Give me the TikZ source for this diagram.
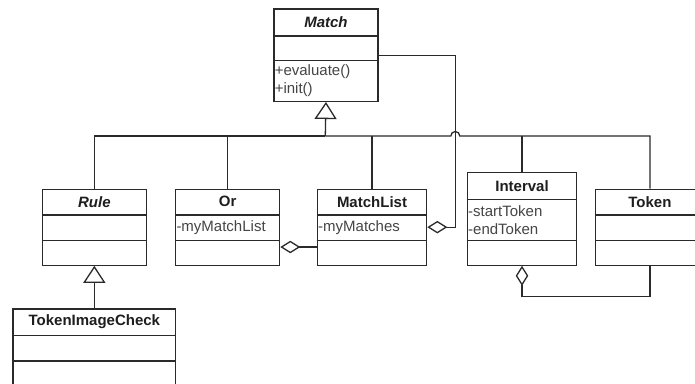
\documentclass[tikz,border=0pt]{standalone}
\usepackage{fontspec}
\setmainfont{Liberation Sans}
\usetikzlibrary{arrows.meta,calc}

\definecolor{umlline}{HTML}{2A2A2A}
\definecolor{umlname}{HTML}{1E1E1E}
\definecolor{umlattr}{HTML}{454545}

\tikzset{
  classbox/.style={draw=umlline, line width=1.3pt, fill=white, rectangle,
    anchor=north west, inner sep=0pt},
  divider/.style={draw=umlline, line width=1.3pt},
  conn/.style={draw=umlline, line width=1.3pt},
  titletext/.style={text=umlname, inner sep=0pt,
    font=\fontsize{15}{18}\selectfont\bfseries},
  attrtext/.style={text=umlattr, inner xsep=1.3pt, inner ysep=0pt, anchor=west,
    align=left, font=\fontsize{15}{18}\selectfont},
  inherit/.style={-{Triangle[open,length=17pt,width=22pt,fill=white]}},
  aggreg/.style={-{Diamond[open,length=20pt,width=12.5pt,fill=white]}},
}

% class box: #1 name, #2 north-west corner, #3 width, #4 height,
% #5 depth of first divider, #6 depth of second divider, #7 class name
\newcommand\umlclass[7]{%
  \node[classbox, minimum width=#3pt, minimum height=#4pt] (#1) at #2 {};
  \draw[divider] ([yshift=-#5pt]#1.north west) -- ([yshift=-#5pt]#1.north east);
  \draw[divider] ([yshift=-#6pt]#1.north west) -- ([yshift=-#6pt]#1.north east);
  \node[titletext] (#1-title) at ([yshift={-#5pt/2}]#1.north) {#7};
  \coordinate (#1-attr) at ([yshift={-(#5pt+#6pt)/2}]#1.north west);
  \coordinate (#1-ops) at ([yshift={-(#6pt+#4pt)/2}]#1.north west);
}

\begin{document}
\begin{tikzpicture}[x=1pt, y=1pt]
\useasboundingbox (0,0) rectangle (695,-383);
\clip (0,0) rectangle (695,-383);

% classes
\umlclass{match}{(273.3,-8.3)}{104}{92.4}{27.7}{52.4}{\itshape Match}
\umlclass{rule}{(41.7,-188.5)}{104}{76}{26.5}{52}{\itshape Rule}
\umlclass{or}{(175,-188.5)}{104}{76}{26.5}{52}{Or}
\umlclass{mlist}{(316.7,-188.5)}{109.3}{76}{26.5}{52}{MatchList}
\umlclass{interval}{(466.7,-172)}{109.3}{92.5}{27.5}{68.5}{Interval}
\umlclass{token}{(595,-188.5)}{108.5}{76}{26.5}{52}{Token}
\umlclass{tic}{(12.3,-308.3)}{162.8}{92}{27.4}{52.7}{TokenImageCheck}

% attributes and operations
\node[attrtext] (match-opstext) at (match-ops) {+evaluate()\\+init()};
\node[attrtext] (or-attrtext) at (or-attr) {-myMatchList};
\node[attrtext] (mlist-attrtext) at (mlist-attr) {-myMatches};
\node[attrtext] (interval-attrtext) at (interval-attr) {-startToken\\-endToken};

% generalisation towards Match
\coordinate (bus) at (325.3,-136);
\coordinate (vline) at ($(mlist.east)+(28,0)$);
\coordinate (hop) at (vline |- bus);
\draw[conn, inherit] (bus) -- (match.south);
\draw[conn] (rule.north) |- (bus);
\draw[conn] (or.north) -- (or.north |- bus);
\draw[conn] (mlist.north) -- (mlist.north |- bus);
\draw[conn] (bus) -- ([xshift=-4.5pt]hop)
  arc[start angle=180, end angle=0, radius=4.5pt]
  -- (token.north |- bus) -- (token.north);
\draw[conn] (interval.north) -- (interval.north |- bus);

% generalisation towards Rule
\draw[conn, inherit] (tic.north) -- (rule.south);

% aggregations
\draw[conn, aggreg] (match.east) -| (vline) -- (mlist.east);
\draw[conn, aggreg] ([yshift=18.8pt]mlist.south west) -- ([yshift=18.8pt]or.south east);
\draw[conn, aggreg] (token.south) -- ++(0,-30.5) -| (interval.south);
\end{tikzpicture}
\end{document}
